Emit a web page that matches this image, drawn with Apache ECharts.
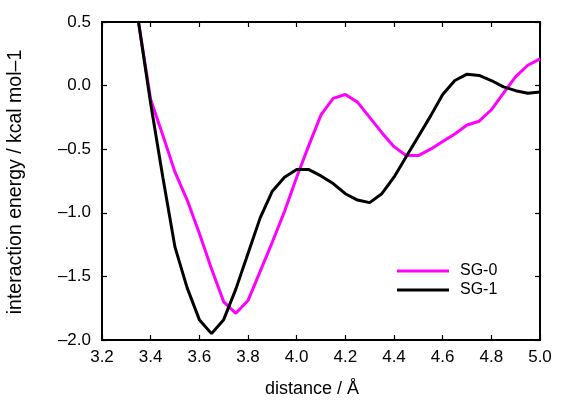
<!DOCTYPE html>
<html>
<head>
<meta charset="utf-8">
<script src="https://cdn.jsdelivr.net/npm/echarts@6/dist/echarts.min.js"></script>
<style>
  html, body { margin: 0; padding: 0; background: #fff; }
  #chart { width: 561px; height: 405px; }
</style>
</head>
<body>
<div id="chart"></div>
<script>
// distance (Å), sampled every 0.05
var distance = [3.35, 3.40, 3.45, 3.50, 3.55, 3.60, 3.65, 3.70, 3.75, 3.80,
                3.85, 3.90, 3.95, 4.00, 4.05, 4.10, 4.15, 4.20, 4.25, 4.30,
                4.35, 4.40, 4.45, 4.50, 4.55, 4.60, 4.65, 4.70, 4.75, 4.80,
                4.85, 4.90, 4.95, 5.00];
// interaction energy (kcal/mol)
var sg0 = [0.50, -0.11, -0.39, -0.68, -0.90, -1.16, -1.44, -1.70, -1.79, -1.69,
           -1.46, -1.23, -0.99, -0.72, -0.47, -0.23, -0.10, -0.07, -0.13, -0.25,
           -0.37, -0.48, -0.55, -0.55, -0.50, -0.44, -0.38, -0.31, -0.28, -0.19,
           -0.06, 0.07, 0.16, 0.21];
var sg1 = [0.50, -0.14, -0.72, -1.27, -1.59, -1.84, -1.95, -1.84, -1.60, -1.32,
           -1.04, -0.83, -0.72, -0.66, -0.66, -0.71, -0.77, -0.85, -0.90, -0.92,
           -0.85, -0.72, -0.56, -0.40, -0.24, -0.07, 0.04, 0.09, 0.08, 0.04,
           -0.01, -0.04, -0.06, -0.05];

var seriesNames = ['SG-0', 'SG-1'];
var seriesColors = ['#ff00ff', '#000000'];
var font = 'Liberation Sans';

function pairs(ys) {
    var res = [];
    for (var i = 0; i < distance.length; i++) {
        res.push([distance[i], ys[i]]);
    }
    return res;
}
function axisLine() {
    return { show: true, onZero: false, lineStyle: { color: '#000', width: 2 } };
}
function tickIn() {
    return { show: true, inside: true, length: 5, lineStyle: { color: '#000', width: 1.2 } };
}

var myChart = echarts.init(document.getElementById('chart'));
var option = {
    animation: false,
    grid: {
        left: 102, right: 21, top: 22, bottom: 65,
        outerBoundsMode: 'none',
        show: true, borderColor: '#000', borderWidth: 2, backgroundColor: 'rgba(255,255,255,0)'
    },
    legend: {
        orient: 'vertical', left: 397, top: 263, padding: 0, itemGap: 3,
        itemWidth: 52, itemHeight: 3, icon: 'rect', data: seriesNames,
        textStyle: { fontFamily: font, fontSize: 16, color: '#000', lineHeight: 16, padding: [0, 0, 0, 6] }
    },
    xAxis: [{
        type: 'value', min: 3.2, max: 5.0, interval: 0.2,
        name: 'distance / Å', nameLocation: 'middle', nameGap: 40,
        nameTextStyle: { fontFamily: font, fontSize: 18, color: '#000', padding: [0, 18, 0, 0] },
        axisLine: axisLine(), axisTick: tickIn(), splitLine: { show: false },
        axisLabel: {
            fontFamily: font, fontSize: 17, color: '#000', margin: 9,
            formatter: function (v) { return v.toFixed(1); }
        }
    }, {
        type: 'value', position: 'top', min: 3.2, max: 5.0, interval: 0.2,
        axisLine: axisLine(), axisTick: tickIn(), splitLine: { show: false },
        axisLabel: { show: false }
    }],
    yAxis: [{
        type: 'value', min: -2.0, max: 0.5, interval: 0.5,
        name: 'interaction energy / kcal mol–1', nameLocation: 'middle', nameGap: 76,
        nameTextStyle: { fontFamily: font, fontSize: 19.5, color: '#000', padding: [0, 2, 0, 0] },
        axisLine: axisLine(), axisTick: tickIn(), splitLine: { show: false },
        axisLabel: {
            fontFamily: font, fontSize: 17, color: '#000', margin: 11,
            formatter: function (v) { return v.toFixed(1).replace('-', '–'); }
        }
    }, {
        type: 'value', position: 'right', min: -2.0, max: 0.5, interval: 0.5,
        axisLine: axisLine(), axisTick: tickIn(), splitLine: { show: false },
        axisLabel: { show: false }
    }],
    series: [{
        name: seriesNames[0], type: 'line', data: pairs(sg0),
        showSymbol: false, symbol: 'none',
        lineStyle: { color: seriesColors[0], width: 3 }, itemStyle: { color: seriesColors[0] }
    }, {
        name: seriesNames[1], type: 'line', data: pairs(sg1),
        showSymbol: false, symbol: 'none',
        lineStyle: { color: seriesColors[1], width: 3 }, itemStyle: { color: seriesColors[1] }
    }, {
        // binds the mirrored top/right axes
        type: 'line', xAxisIndex: 1, yAxisIndex: 1, data: [], silent: true
    }]
};

myChart.setOption(option);
window.addEventListener('resize', function () {
    myChart.resize();
});
</script>
</body>
</html>
